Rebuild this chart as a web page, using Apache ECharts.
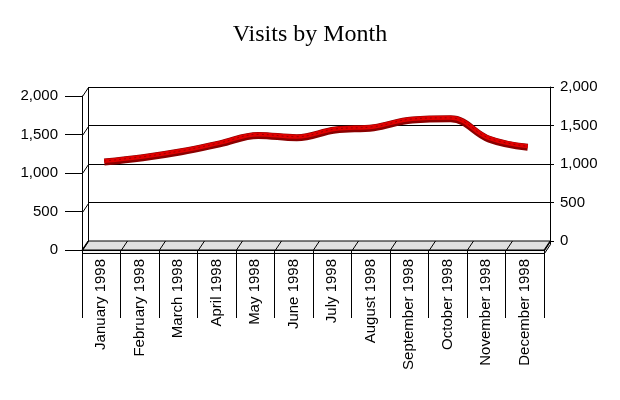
<!DOCTYPE html>
<html>
<head>
<meta charset="utf-8">
<script src="https://cdn.jsdelivr.net/npm/echarts@6/dist/echarts.min.js"></script>
<style>
html,body{margin:0;padding:0;background:#fff;}
#chart{width:620px;height:400px;}
</style>
</head>
<body>
<div id="chart"></div>
<script>
// ---- data ----
var categories = ['January 1998','February 1998','March 1998','April 1998','May 1998','June 1998',
                  'July 1998','August 1998','September 1998','October 1998','November 1998','December 1998'];
var visits = [1085, 1140, 1217, 1320, 1430, 1400, 1500, 1530, 1630, 1645, 1380, 1275];
var yTicks = [0, 500, 1000, 1500, 2000];
var chartTitle = 'Visits by Month';

// ---- layout (frame only) ----
var FX0 = 82, FX1 = 544, FY0 = 96, FY1 = 250; // front plane
var DX = 6, DY = -9;                            // depth offset
var W = FX1 - FX0, H = FY1 - FY0;
var SANS = 'Liberation Sans, Arial, sans-serif';
var fmt = function (v) { return v.toLocaleString('en-US'); };

var chart = echarts.init(document.getElementById('chart'), null, {renderer: 'canvas'});

var yMin = yTicks[0], yMax = yTicks[yTicks.length - 1], yStep = yTicks[1] - yTicks[0];

var option = {
  backgroundColor: '#ffffff',
  animation: false,
  title: {
    text: chartTitle, left: 'center', top: 18,
    textStyle: {fontFamily: 'Liberation Serif, Times New Roman, serif', fontSize: 24, fontWeight: 'normal', color: '#000'}
  },
  grid: [
    {left: FX0, top: FY0, width: W, height: H},                 // front
    {left: FX0 + DX, top: FY0 + DY, width: W, height: H},       // back wall
    {left: FX0 + DX / 2, top: FY0 + DY / 2, width: W, height: H}, // ribbon middle
    {left: FX0 + DX / 2, top: FY0 + DY / 2 - 1, width: W, height: H} // ribbon top surface
  ],
  xAxis: [
    {
      gridIndex: 0, type: 'category', data: categories, boundaryGap: true,
      axisLine: {show: true, lineStyle: {color: '#000', width: 1}},
      axisTick: {show: true, interval: 0, length: 68, lineStyle: {color: '#000'}},
      axisLabel: {interval: 0, rotate: 90, margin: 9, fontSize: 15, fontFamily: SANS, color: '#000'},
      splitLine: {show: false}, z: 5
    },
    {gridIndex: 1, type: 'category', data: categories, boundaryGap: true, show: false},
    {gridIndex: 2, type: 'category', data: categories, boundaryGap: true, show: false},
    {gridIndex: 3, type: 'category', data: categories, boundaryGap: true, show: false}
  ],
  yAxis: [
    {
      gridIndex: 0, type: 'value', min: yMin, max: yMax, interval: yStep, position: 'left',
      axisLine: {show: true, lineStyle: {color: '#000'}},
      axisTick: {show: true, length: 17, lineStyle: {color: '#000'}},
      axisLabel: {margin: 24, fontSize: 15, fontFamily: SANS, color: '#000', formatter: fmt},
      splitLine: {show: false}
    },
    {
      gridIndex: 1, type: 'value', min: yMin, max: yMax, interval: yStep, position: 'right',
      axisLine: {show: true, lineStyle: {color: '#000'}},
      axisTick: {show: true, length: 4, lineStyle: {color: '#000'}},
      axisLabel: {margin: 10, fontSize: 15, fontFamily: SANS, color: '#000', formatter: fmt},
      splitLine: {show: true, lineStyle: {color: '#000', width: 1, type: 'solid'}}
    },
    {gridIndex: 2, type: 'value', min: yMin, max: yMax, show: false},
    {gridIndex: 3, type: 'value', min: yMin, max: yMax, show: false}
  ],
  series: [
    {
      type: 'line', xAxisIndex: 2, yAxisIndex: 2, data: visits, smooth: 0.4,
      showSymbol: false, z: 10,
      lineStyle: {color: '#8a0000', width: 7, cap: 'butt'}
    },
    {
      type: 'line', xAxisIndex: 3, yAxisIndex: 3, data: visits, smooth: 0.4,
      showSymbol: false, z: 11,
      lineStyle: {color: '#e00000', width: 4, cap: 'butt'}
    },
    {
      type: 'line', xAxisIndex: 3, yAxisIndex: 3, data: visits, smooth: 0.4,
      showSymbol: false, z: 12,
      lineStyle: {color: '#9a0000', width: 1, type: [2, 3]}
    }
  ]
};
chart.setOption(option);

// ---- 3D frame decorations derived from the grid layout ----
function line(x1, y1, x2, y2, z) {
  return {type: 'line', z: z || 1, silent: true,
    shape: {x1: x1, y1: y1, x2: x2, y2: y2},
    style: {stroke: '#000', lineWidth: 1}};
}
var g = [];
// floor top (gray parallelogram)
g.push({type: 'polygon', z: 0, silent: true,
  shape: {points: [[FX0, FY1], [FX1, FY1], [FX1 + DX, FY1 + DY], [FX0 + DX, FY1 + DY]]},
  style: {fill: '#e0e0e0', stroke: '#000', lineWidth: 1}});
// floor front face
g.push({type: 'rect', z: 0, silent: true,
  shape: {x: FX0 + 0.5, y: FY1 + 0.5, width: W, height: 3},
  style: {fill: '#f4f4f4', stroke: '#000', lineWidth: 1}});
// floor right face
g.push({type: 'polygon', z: 0, silent: true,
  shape: {points: [[FX1 + 0.5, FY1 + 0.5], [FX1 + DX + 0.5, FY1 + DY + 0.5], [FX1 + DX + 0.5, FY1 + DY + 3.5], [FX1 + 0.5, FY1 + 3.5]]},
  style: {fill: '#d0d0d0', stroke: '#000', lineWidth: 1}});
// category separators on floor
var n = categories.length;
for (var i = 0; i <= n; i++) {
  var xb = Math.round(FX0 + W * i / n) + 0.5;
  g.push(line(xb, FY1, xb + DX, FY1 + DY, 2));
}
// left wall depth connectors and back wall left edge
for (var k = 0; k < yTicks.length; k++) {
  var yf = Math.round(FY1 - H * (yTicks[k] - yMin) / (yMax - yMin)) + 0.5;
  g.push(line(FX0 + 0.5, yf, FX0 + DX + 0.5, yf + DY, 2));
}
g.push(line(FX0 + DX + 0.5, FY0 + DY + 0.5, FX0 + DX + 0.5, FY1 + DY + 0.5, 2));
// front zero line extension to the left tick
g.push(line(FX0 - 17, FY1 + 0.5, FX0, FY1 + 0.5, 2));
chart.setOption({graphic: g});
</script>
</body>
</html>
